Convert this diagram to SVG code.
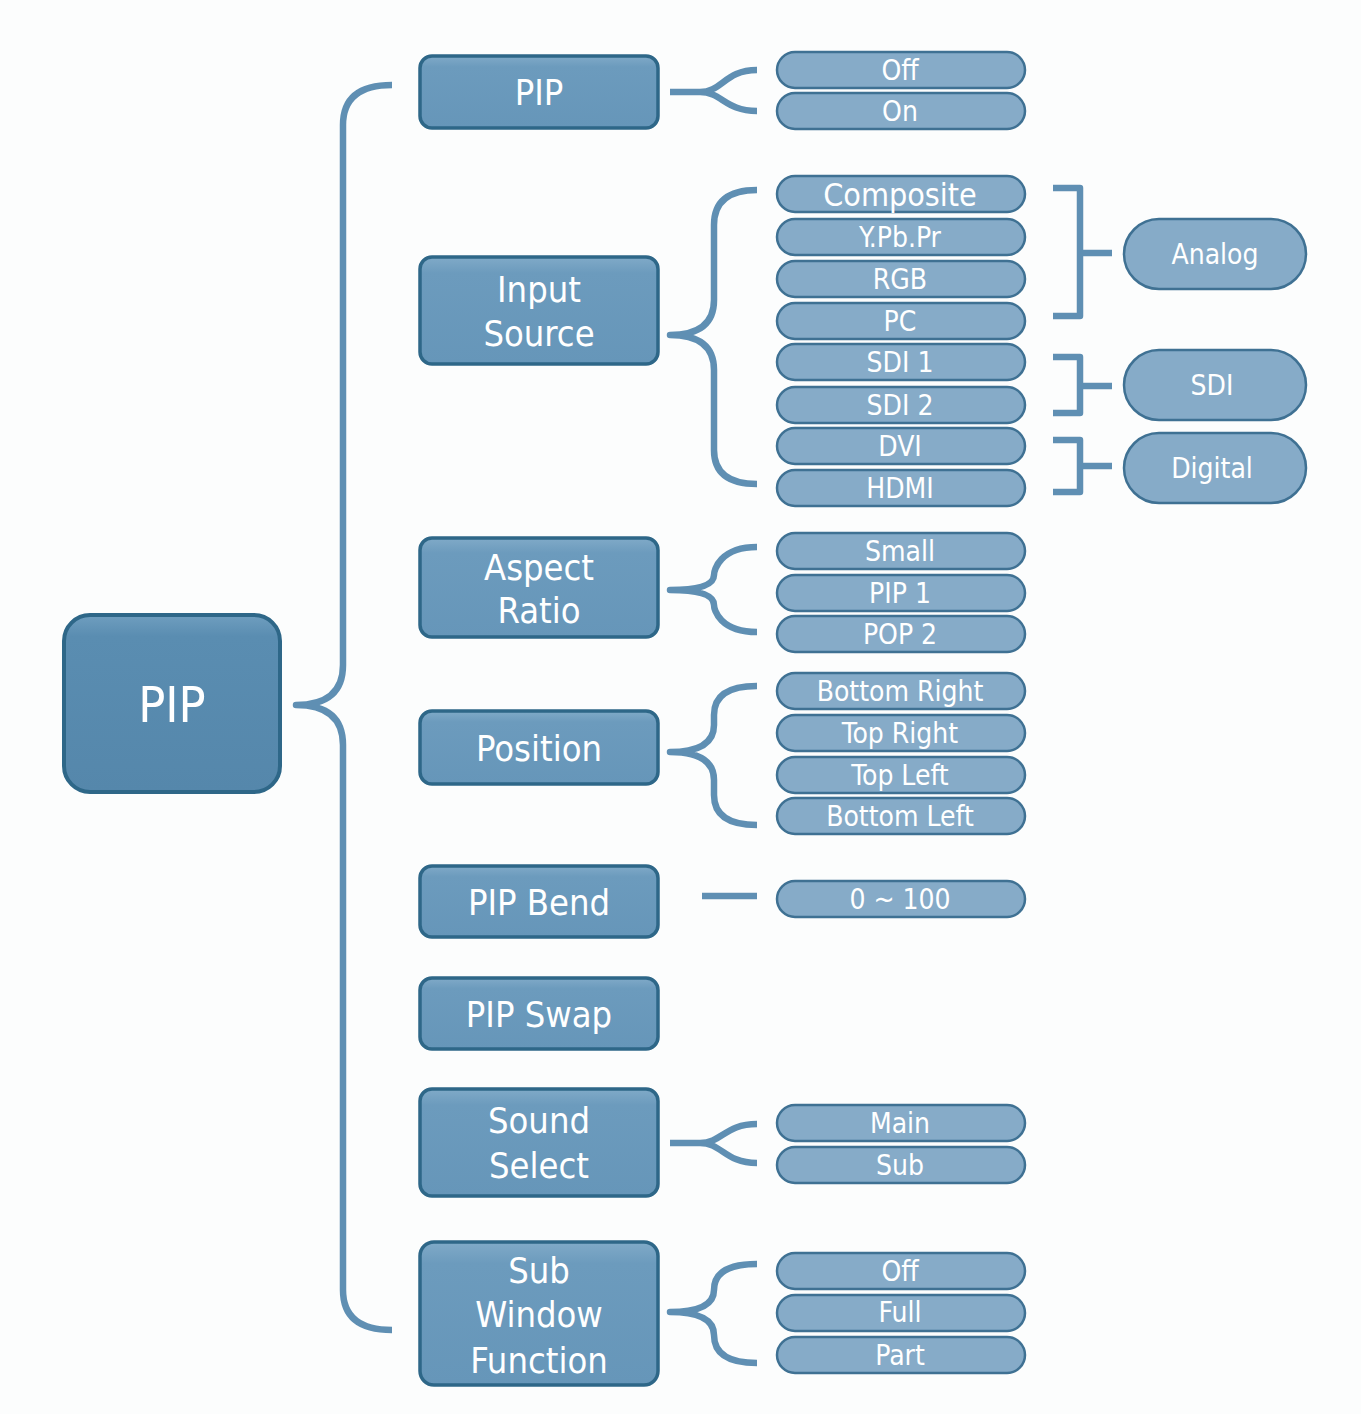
<svg xmlns="http://www.w3.org/2000/svg" width="1361" height="1414" viewBox="0 0 1361 1414">
<defs>
<linearGradient id="gBox" x1="0" y1="0" x2="0" y2="1">
<stop offset="0" stop-color="#80aac8"/>
<stop offset="0.15" stop-color="#6c9bbd"/>
<stop offset="1" stop-color="#6696b9"/>
</linearGradient>
<linearGradient id="gMain" x1="0" y1="0" x2="0" y2="1">
<stop offset="0" stop-color="#6f9ebf"/>
<stop offset="0.12" stop-color="#5a8db1"/>
<stop offset="1" stop-color="#5587ab"/>
</linearGradient>
<style>
.box{fill:url(#gBox);stroke:#2e6788;stroke-width:3.5}
.main{fill:url(#gMain);stroke:#2e6788;stroke-width:4}
.pill{fill:#86abc8;stroke:#3f7193;stroke-width:2.5}
.grp{fill:#86abc8;stroke:#3f7193;stroke-width:2.5}
.t{font-family:"DejaVu Sans Condensed","DejaVu Sans",sans-serif;fill:#ffffff;text-anchor:middle}
.t2{font-size:36px}
.t3{font-size:28px}
.c{fill:none;stroke:#5f8fb3;stroke-width:6.5;stroke-linecap:butt;stroke-linejoin:round}
</style>
</defs>
<rect width="1361" height="1414" fill="#fcfdfd"/>

<g id="connectors" class="c">
<path d="M392,85 Q343,85 343,125 L343,665 Q343,705 296,705 Q343,705 343,745 L343,1290 Q343,1330 392,1330"/>
<path d="M757,70 C725,70 722,92 700,92 L670,92 M700,92 C722,92 725,111 757,111"/>
<path d="M757,190 Q714,190 714,225 L714,300 Q714,335 670,335 Q714,335 714,370 L714,450 Q714,484 757,484"/>
<path d="M757,547 C720,547 714,570 714,575 Q714,590 670,590 Q714,590 714,605 C714,610 720,632 757,632"/>
<path d="M757,686 Q714,686 714,715 L714,725 Q714,752 670,752 Q714,752 714,780 L714,795 Q714,825 757,825"/>
<path d="M702,896 L757,896"/>
<path d="M757,1124 C725,1124 722,1143 700,1143 L670,1143 M700,1143 C722,1143 725,1163 757,1163"/>
<path d="M757,1264 Q714,1264 714,1290 Q714,1312 670,1312 Q714,1312 714,1335 Q714,1363 757,1363"/>
<path d="M1053,188 L1080,188 L1080,316 L1053,316 M1080,253 L1112,253"/>
<path d="M1053,357 L1080,357 L1080,413 L1053,413 M1080,386 L1112,386"/>
<path d="M1053,440 L1080,440 L1080,492 L1053,492 M1080,466 L1112,466"/>
</g>

<g id="n-root"><rect class="main" x="64" y="615" width="216" height="177" rx="26"/><text class="t" x="172" y="722" style="font-size:50px">PIP</text></g>

<g id="n-pip"><rect class="box" x="420" y="56" width="238" height="72" rx="12"/><text class="t t2" x="539" y="105">PIP</text></g>
<g id="n-input"><rect class="box" x="420" y="257" width="238" height="107" rx="12"/><text class="t t2" x="539" y="302">Input</text><text class="t t2" x="539" y="346">Source</text></g>
<g id="n-aspect"><rect class="box" x="420" y="538" width="238" height="99" rx="12"/><text class="t t2" x="539" y="580">Aspect</text><text class="t t2" x="539" y="623">Ratio</text></g>
<g id="n-position"><rect class="box" x="420" y="711" width="238" height="73" rx="12"/><text class="t t2" x="539" y="761">Position</text></g>
<g id="n-bend"><rect class="box" x="420" y="866" width="238" height="71" rx="12"/><text class="t t2" x="539" y="915">PIP Bend</text></g>
<g id="n-swap"><rect class="box" x="420" y="978" width="238" height="71" rx="12"/><text class="t t2" x="539" y="1027">PIP Swap</text></g>
<g id="n-sound"><rect class="box" x="420" y="1089" width="238" height="107" rx="12"/><text class="t t2" x="539" y="1133">Sound</text><text class="t t2" x="539" y="1178">Select</text></g>
<g id="n-subwin"><rect class="box" x="420" y="1242" width="238" height="143" rx="14"/><text class="t t2" x="539" y="1283">Sub</text><text class="t t2" x="539" y="1327">Window</text><text class="t t2" x="539" y="1373">Function</text></g>

<g id="p-pip-off"><rect class="pill" x="777" y="52" width="248" height="36" rx="18"/><text class="t t3" x="900" y="80">Off</text></g>
<g id="p-pip-on"><rect class="pill" x="777" y="93" width="248" height="36" rx="18"/><text class="t t3" x="900" y="121">On</text></g>

<g id="p-composite"><rect class="pill" x="777" y="176" width="248" height="36" rx="18"/><text class="t" x="900" y="206" style="font-size:32px">Composite</text></g>
<g id="p-ypbpr"><rect class="pill" x="777" y="219" width="248" height="36" rx="18"/><text class="t t3" x="900" y="247">Y.Pb.Pr</text></g>
<g id="p-rgb"><rect class="pill" x="777" y="261" width="248" height="36" rx="18"/><text class="t t3" x="900" y="289">RGB</text></g>
<g id="p-pc"><rect class="pill" x="777" y="303" width="248" height="36" rx="18"/><text class="t t3" x="900" y="331">PC</text></g>
<g id="p-sdi1"><rect class="pill" x="777" y="344" width="248" height="36" rx="18"/><text class="t t3" x="900" y="372">SDI 1</text></g>
<g id="p-sdi2"><rect class="pill" x="777" y="387" width="248" height="36" rx="18"/><text class="t t3" x="900" y="415">SDI 2</text></g>
<g id="p-dvi"><rect class="pill" x="777" y="428" width="248" height="36" rx="18"/><text class="t t3" x="900" y="456">DVI</text></g>
<g id="p-hdmi"><rect class="pill" x="777" y="470" width="248" height="36" rx="18"/><text class="t t3" x="900" y="498">HDMI</text></g>

<g id="g-analog"><rect class="grp" x="1124" y="219" width="182" height="70" rx="35"/><text class="t t3" x="1215" y="264">Analog</text></g>
<g id="g-sdi"><rect class="grp" x="1124" y="350" width="182" height="70" rx="35"/><text class="t t3" x="1212" y="395">SDI</text></g>
<g id="g-digital"><rect class="grp" x="1124" y="433" width="182" height="70" rx="35"/><text class="t t3" x="1212" y="478">Digital</text></g>

<g id="p-small"><rect class="pill" x="777" y="533" width="248" height="36" rx="18"/><text class="t t3" x="900" y="561">Small</text></g>
<g id="p-pip1"><rect class="pill" x="777" y="575" width="248" height="36" rx="18"/><text class="t t3" x="900" y="603">PIP 1</text></g>
<g id="p-pop2"><rect class="pill" x="777" y="616" width="248" height="36" rx="18"/><text class="t t3" x="900" y="644">POP 2</text></g>

<g id="p-br"><rect class="pill" x="777" y="673" width="248" height="36" rx="18"/><text class="t t3" x="900" y="701">Bottom Right</text></g>
<g id="p-tr"><rect class="pill" x="777" y="715" width="248" height="36" rx="18"/><text class="t t3" x="900" y="743">Top Right</text></g>
<g id="p-tl"><rect class="pill" x="777" y="757" width="248" height="36" rx="18"/><text class="t t3" x="900" y="785">Top Left</text></g>
<g id="p-bl"><rect class="pill" x="777" y="798" width="248" height="36" rx="18"/><text class="t t3" x="900" y="826">Bottom Left</text></g>

<g id="p-range"><rect class="pill" x="777" y="881" width="248" height="36" rx="18"/><text class="t t3" x="900" y="909">0 ~ 100</text></g>

<g id="p-main"><rect class="pill" x="777" y="1105" width="248" height="36" rx="18"/><text class="t t3" x="900" y="1133">Main</text></g>
<g id="p-sub"><rect class="pill" x="777" y="1147" width="248" height="36" rx="18"/><text class="t t3" x="900" y="1175">Sub</text></g>

<g id="p-sw-off"><rect class="pill" x="777" y="1253" width="248" height="36" rx="18"/><text class="t t3" x="900" y="1281">Off</text></g>
<g id="p-sw-full"><rect class="pill" x="777" y="1295" width="248" height="36" rx="18"/><text class="t t3" x="900" y="1322">Full</text></g>
<g id="p-sw-part"><rect class="pill" x="777" y="1337" width="248" height="36" rx="18"/><text class="t t3" x="900" y="1365">Part</text></g>
</svg>
